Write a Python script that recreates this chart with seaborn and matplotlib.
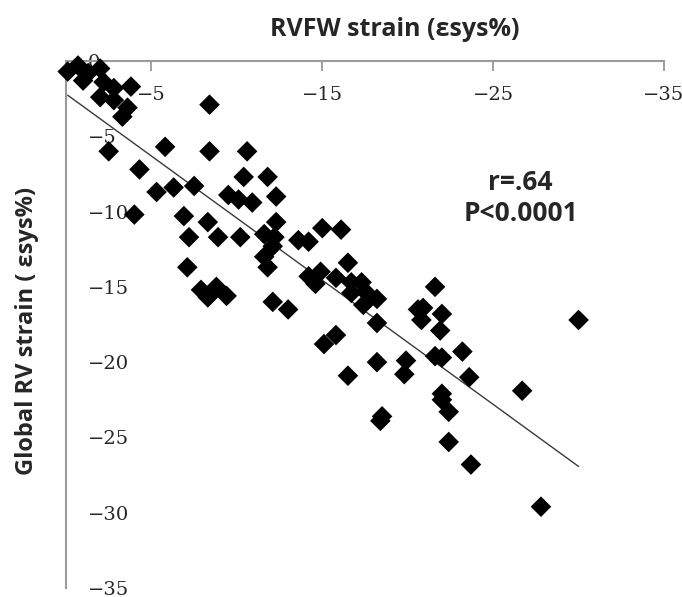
import matplotlib
matplotlib.use("Agg")
import matplotlib.pyplot as plt
import seaborn as sns
import pandas as pd

# RVFW strain (x) and Global RV strain (y)
rvfw_strain = [
    -0.1, -0.7, -1.0, -1.3, -2.0, -2.2, -2.8, -3.8, -2.0, -2.8,
    -3.6, -3.3, -8.4, -2.5, -5.8, -8.4, -10.6, -4.3, -5.3, -6.3,
    -7.5, -10.4, -11.8, -9.5, -10.1, -10.9, -12.3, -4.0, -6.9, -8.3,
    -12.3, -7.2, -8.9, -10.2, -11.6, -12.2, -12.1, -11.6, -11.8, -7.1,
    -7.9, -8.3, -8.8, -9.4, -12.1, -13.0, -13.6, -14.2, -15.0, -16.1,
    -16.5, -14.2, -14.9, -15.8, -16.7, -17.3, -17.5, -18.2, -16.7, -18.2,
    -15.1, -15.8, -16.5, -18.2, -19.9, -19.8, -18.4, -18.5, -20.6, -21.6,
    -20.9, -22.0, -20.8, -21.9, -21.6, -22.0, -23.2, -23.6, -22.0, -22.4,
    -22.4, -23.7, -26.7, -27.8, -30.0, -17.4, -14.6, -22.0,
]
global_rv_strain = [
    -0.7, -0.3, -1.3, -0.8, -0.5, -1.4, -1.8, -1.7, -2.4, -2.6,
    -3.1, -3.7, -2.9, -6.0, -5.7, -6.0, -6.0, -7.2, -8.7, -8.4,
    -8.3, -7.7, -7.7, -8.9, -9.2, -9.4, -9.0, -10.2, -10.3, -10.7,
    -10.7, -11.7, -11.7, -11.7, -11.5, -11.7, -12.3, -13.0, -13.7, -13.7,
    -15.2, -15.7, -15.0, -15.6, -16.0, -16.5, -11.9, -12.0, -11.1, -11.2,
    -13.4, -14.3, -14.0, -14.4, -14.7, -14.7, -15.3, -15.8, -15.4, -17.4,
    -18.8, -18.2, -20.9, -20.0, -19.9, -20.8, -23.9, -23.6, -16.5, -15.0,
    -16.4, -16.8, -17.2, -17.9, -19.6, -19.7, -19.3, -21.0, -22.1, -23.3,
    -25.3, -26.8, -21.9, -29.6, -17.2, -16.2, -14.8, -22.5,
]

x_ticks = [-5, -15, -25, -35]
y_ticks = [0, -5, -10, -15, -20, -25, -30, -35]

df = pd.DataFrame({"rvfw": rvfw_strain, "global": global_rv_strain})

sns.set_style("white")
plt.rcParams["font.family"] = ["DejaVu Sans"]

fig = plt.figure(figsize=(6.82, 5.97), dpi=100)
ax = fig.add_axes([66 / 682, 1 - 588 / 597, 598 / 682, 527 / 597])

sns.regplot(data=df, x="rvfw", y="global", scatter=False, ci=None,
            truncate=True, color="#3a3a3a", line_kws={"linewidth": 1.0}, ax=ax)
sns.scatterplot(data=df, x="rvfw", y="global", marker="D", color="black",
                s=110, edgecolor="none", clip_on=False, zorder=3, ax=ax)

ax.set_xlim(0, -35)
ax.set_ylim(-35, 0)
ax.set_xlabel("")
ax.set_ylabel("")

for side in ["right", "bottom"]:
    ax.spines[side].set_visible(False)
for side in ["left", "top"]:
    ax.spines[side].set_color("#9a9a9a")
    ax.spines[side].set_linewidth(1.5)

ax.xaxis.set_ticks_position("top")
ax.set_xticks(x_ticks)
ax.set_xticklabels([f"{t:d}".replace("-", "\u2212") for t in x_ticks],
                   family="DejaVu Serif", fontsize=14)
ax.set_yticks(y_ticks)
ax.set_yticklabels([f"{t:d}".replace("-", "\u2212") for t in y_ticks],
                   family="DejaVu Serif", fontsize=14)
ax.tick_params(axis="x", direction="in", length=7, width=1.3, color="#9a9a9a",
               pad=-31, top=True, bottom=False, labeltop=True, labelbottom=False)
ax.tick_params(axis="y", direction="in", length=7, width=1.3, color="#9a9a9a",
               pad=-16)
for lab in ax.get_yticklabels():
    lab.set_horizontalalignment("left")

fig.text(395 / 682, 1 - 30 / 597, "RVFW strain (\u03b5sys%)", ha="center",
         va="center", fontsize=18, fontweight="bold", family="Open Sans")
fig.text(27 / 682, 1 - 331 / 597, "Global RV strain ( \u03b5sys%)", ha="center",
         va="center", rotation=90, fontsize=17, fontweight="bold",
         family="Open Sans")
fig.text(520 / 682, 1 - 183 / 597, "r=.64", ha="center", va="center",
         fontsize=19, fontweight="bold", family="Open Sans")
fig.text(521 / 682, 1 - 214 / 597, "P<0.0001", ha="center", va="center",
         fontsize=19, fontweight="bold", family="Open Sans")

fig.savefig("out.png", dpi=100)
